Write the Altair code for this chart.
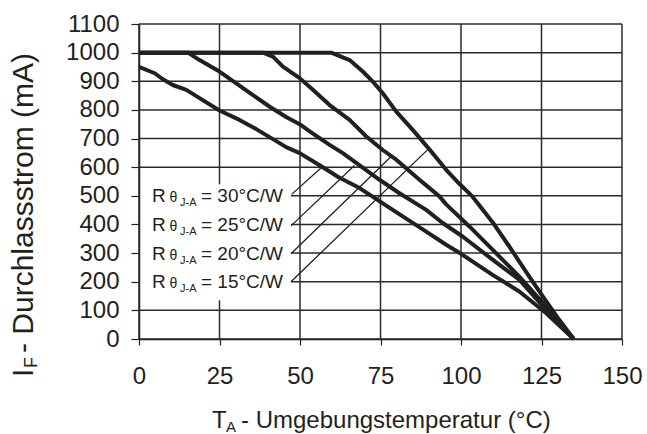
import altair as alt
import pandas as pd

# ---- data ----
temp_15 = [0, 59.7, 65.4, 69.5, 72.6, 75.7, 79.9, 85.0, 90.2, 95.4, 99.5, 103.6, 109.8, 115.0, 121.2, 125.4, 130.5, 135]
curr_15 = [1000, 1000, 974, 934, 899, 858, 794, 730, 662, 591, 542, 497, 408, 323, 218, 149, 67, 0]

temp_20 = [0, 38.5, 41.6, 44.7, 49.9, 54.0, 59.2, 65.4, 70.6, 75.7, 79.9, 87.1, 93.3, 95.4, 102.6, 109.8, 118.1, 125.4, 135]
curr_20 = [1000, 1000, 986, 951, 911, 870, 817, 765, 707, 660, 626, 556, 498, 470, 393, 312, 218, 126, 0]

temp_25 = [0, 15.2, 18.8, 25.0, 30.2, 35.4, 40.6, 45.7, 49.9, 53.0, 59.2, 63.3, 74.7, 80.9, 89.2, 94.3, 100.5, 109.8, 118.1, 126.4, 135]
curr_25 = [1000, 1000, 974, 934, 893, 852, 811, 775, 750, 725, 678, 649, 556, 509, 451, 405, 358, 277, 207, 102, 0]

temp_30 = [0, 4.9, 7.4, 10.5, 14.7, 18.8, 25.0, 31.2, 36.4, 41.6, 45.7, 49.9, 56.6, 62.0, 68.5, 81.9, 89.2, 95.4, 100.5, 109.8, 118.1, 126.4, 135]
curr_30 = [950, 928, 907, 887, 870, 841, 798, 765, 733, 698, 670, 649, 603, 565, 527, 428, 375, 329, 294, 224, 166, 91, 0]

series_names = ["30°C/W", "25°C/W", "20°C/W", "15°C/W"]
label_rows = [500, 400, 300, 200]
leader_x0 = [47.4, 47.2, 47.2, 47.2]
leader_y0 = [505, 395, 298, 200]
leader_x1 = [56.6, 66.9, 78.3, 89.9]
leader_y1 = [598, 606, 637, 664]
box_x = [0, 47.2]      # blank area behind the annotation labels
box_y = [135, 540]

x_ticks = [0, 25, 50, 75, 100, 125, 150]
y_ticks = list(range(0, 1200, 100))

FONT = "Liberation Sans"
INK = "#231f20"
GRID = "#2a2a2a"

# ---- tables ----
rows = []
for name, ts, cs in [("15°C/W", temp_15, curr_15), ("20°C/W", temp_20, curr_20),
                     ("25°C/W", temp_25, curr_25), ("30°C/W", temp_30, curr_30)]:
    for i, (t, c) in enumerate(zip(ts, cs)):
        rows.append({"series": name, "t": t, "i": c, "order": i})
curves = pd.DataFrame(rows)

leaders = pd.DataFrame({"x0": leader_x0, "y0": leader_y0, "x1": leader_x1, "y1": leader_y1})
labels = pd.DataFrame({"y": label_rows, "value": ["= " + s for s in series_names]})

# grid segments, interrupted where the label block sits
seg = []
for gx in x_ticks:
    if box_x[0] < gx < box_x[1]:
        seg.append({"gx0": float(gx), "gx1": float(gx), "gy0": float(y_ticks[0]), "gy1": float(box_y[0])})
        seg.append({"gx0": float(gx), "gx1": float(gx), "gy0": float(box_y[1]), "gy1": float(y_ticks[-1])})
    else:
        seg.append({"gx0": float(gx), "gx1": float(gx), "gy0": float(y_ticks[0]), "gy1": float(y_ticks[-1])})
for gy in y_ticks:
    if box_y[0] < gy < box_y[1]:
        seg.append({"gx0": float(box_x[1]), "gx1": float(x_ticks[-1]), "gy0": float(gy), "gy1": float(gy)})
    else:
        seg.append({"gx0": float(x_ticks[0]), "gx1": float(x_ticks[-1]), "gy0": float(gy), "gy1": float(gy)})
grid = pd.DataFrame(seg)

xscale = alt.Scale(domain=[0, 150], nice=False, zero=False)
yscale = alt.Scale(domain=[0, 1100], nice=False, zero=False)

x_axis = alt.Axis(values=x_ticks, title=None, grid=False, format="d",
                  tickSize=6, tickColor=INK, tickWidth=1.2, domainColor=INK, domainWidth=1.5,
                  labelFontSize=24, labelFont=FONT, labelColor=INK, labelPadding=19,
                  labelFlush=False)
y_axis = alt.Axis(values=y_ticks, title=None, grid=False, format="d",
                  tickSize=8, tickColor=INK, tickWidth=1.2, domainColor=INK, domainWidth=1.5,
                  labelFontSize=24, labelFont=FONT, labelColor=INK, labelPadding=12,
                  labelFlush=False)

grid_layer = alt.Chart(grid).mark_rule(strokeWidth=1.5, color=GRID, opacity=1).encode(
    x=alt.X("gx0:Q", scale=xscale, axis=x_axis), x2="gx1:Q",
    y=alt.Y("gy0:Q", scale=yscale, axis=y_axis), y2="gy1:Q",
)

curve_layer = alt.Chart(curves).mark_line(strokeWidth=4, color=INK, strokeJoin="round", strokeCap="butt").encode(
    x=alt.X("t:Q", scale=xscale, axis=x_axis),
    y=alt.Y("i:Q", scale=yscale, axis=y_axis),
    detail="series:N",
    order="order:Q",
)

leader_layer = alt.Chart(leaders).mark_rule(strokeWidth=1.3, color=INK).encode(
    x=alt.X("x0:Q", scale=xscale, axis=x_axis), x2="x1:Q",
    y=alt.Y("y0:Q", scale=yscale, axis=y_axis), y2="y1:Q",
)

LX = 13  # left of annotation text (px from plot left)

def part(text_field, dx, dy, size, const=None):
    enc = dict(x=alt.value(LX), y=alt.Y("y:Q", scale=yscale, axis=y_axis))
    if const is not None:
        enc["text"] = alt.value(const)
    else:
        enc["text"] = alt.Text(text_field)
    return alt.Chart(labels).mark_text(align="left", baseline="alphabetic", dx=dx, dy=dy,
                                        fontSize=size, font=FONT, color=INK).encode(**enc)

lab_R = part(None, 0, 6.5, 19, "R")
lab_th = part(None, 17.5, 6.5, 14, "θ")
lab_sub = part(None, 28, 10.5, 11, "J-A")
lab_main = part("value:N", 49, 6.5, 19)

one = pd.DataFrame({"k": [0]})

def free_text(txt, x, y, size, angle=0, dx=0, dy=0):
    kw = dict(align="left", baseline="alphabetic", fontSize=size, font=FONT, color=INK, dx=dx, dy=dy)
    if angle:
        kw["angle"] = angle
    return alt.Chart(one).mark_text(**kw).encode(x=alt.value(x), y=alt.value(y), text=alt.value(txt))

# x-axis title with subscript
xt_T = free_text("T", 73, 404, 24)
xt_A = free_text("A", 87, 408, 15)
xt_rest = free_text(" - Umgebungstemperatur (°C)", 102, 404, 24)

# y-axis title with subscript (rotated)
yt_I = free_text("I", -106, 353, 30, angle=270)
yt_F = free_text("F", -106, 353, 18, angle=270, dx=9, dy=4)
yt_rest = free_text(" - Durchlassstrom (mA)", -106, 353, 30, angle=270, dx=24)

chart = alt.layer(
    grid_layer, curve_layer, leader_layer,
    lab_R, lab_th, lab_sub, lab_main,
    xt_T, xt_A, xt_rest, yt_I, yt_F, yt_rest,
).properties(
    width=483, height=315,
    padding={"left": 139, "top": 24, "right": 25, "bottom": 95},
    autosize=alt.AutoSizeParams(type="none"),
    background="white",
).configure_view(stroke=None)

chart.save("out.html", embed_options={"renderer": "svg", "actions": False})
